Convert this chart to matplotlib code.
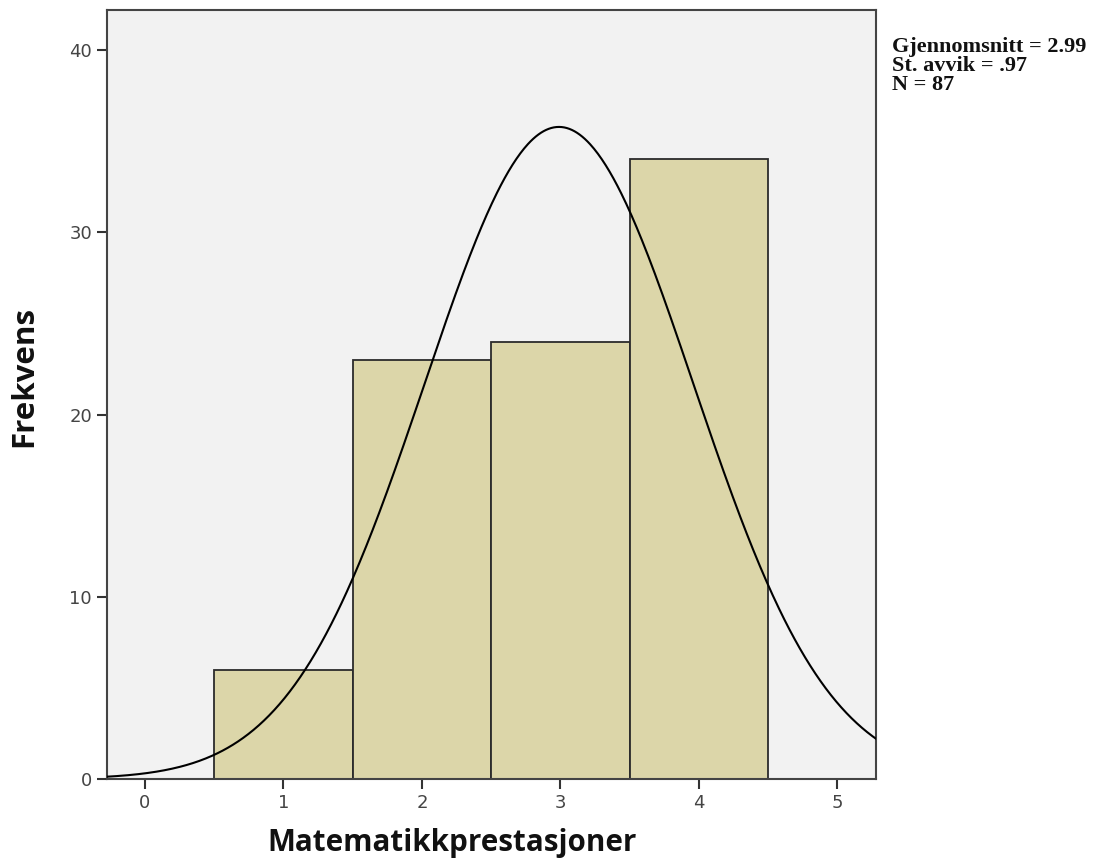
import numpy as np
import matplotlib
matplotlib.use("Agg")
import matplotlib.pyplot as plt

# Data
bin_centers = [1, 2, 3, 4]
frequencies = [6, 23, 24, 34]
mean_val = 2.99
std_val = 0.97
n_val = 87
x_ticks = [0, 1, 2, 3, 4, 5]
y_ticks = [0, 10, 20, 30, 40]
stats_lines = ["Gjennomsnitt = 2.99", "St. avvik = .97", "N = 87"]

fig = plt.figure(figsize=(11.04, 8.66), dpi=100)
ax = fig.add_axes([0.0966, 0.1005, 0.6969, 0.888])
ax.set_facecolor("#f2f2f2")

ax.bar(bin_centers, frequencies, width=1.0, color="#dcd6a9", edgecolor="#2b2b2b", linewidth=1.3, zorder=2)

xs = np.linspace(-0.3, 5.3, 600)
ys = n_val * 1.0 / (std_val * np.sqrt(2 * np.pi)) * np.exp(-0.5 * ((xs - mean_val) / std_val) ** 2)
ax.plot(xs, ys, color="black", linewidth=1.5, zorder=3)

ax.set_xlim(-0.277, 5.28)
ax.set_ylim(0, 42.2)
ax.set_xticks(x_ticks)
ax.set_yticks(y_ticks)
ax.tick_params(axis="both", direction="out", length=7, width=1.5, color="#333333",
               labelsize=13, labelcolor="#444444")
for s in ax.spines.values():
    s.set_color("#444444")
    s.set_linewidth(1.5)

ax.set_xlabel("Matematikkprestasjoner", fontsize=21.3, fontweight="bold", family="Open Sans",
              color="#111111", va="center", ha="center")
ax.xaxis.set_label_coords(0.449, -0.083)
ax.set_ylabel("Frekvens", fontsize=22.5, fontweight="bold", family="Open Sans",
              color="#111111", va="center", ha="center")
ax.yaxis.set_label_coords(-0.107, 0.524)

fig.text(892 / 1104, 1 - 37 / 866, "\n".join(stats_lines), family="Liberation Serif",
         fontweight="bold", fontsize=16, va="top", ha="left", color="#111111", linespacing=0.93)

fig.savefig("out.png", dpi=100)
